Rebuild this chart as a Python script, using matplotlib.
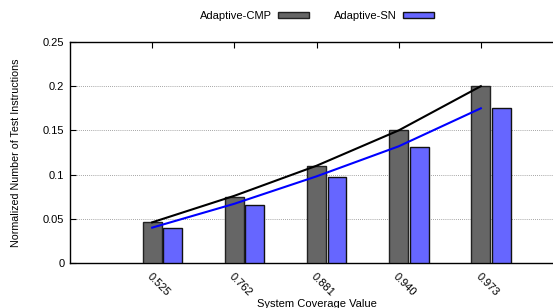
import numpy as np
import matplotlib
matplotlib.use("Agg")
import matplotlib.pyplot as plt
import matplotlib.transforms as mtransforms

plt.rcParams['font.family'] = ['Liberation Sans', 'DejaVu Sans']

# данные
categories = ["0.525", "0.762", "0.881", "0.940", "0.973"]
cmp_values = [0.046, 0.075, 0.110, 0.150, 0.200]
sn_values = [0.040, 0.066, 0.097, 0.131, 0.175]
# линии тренда (по точкам на позициях категорий)
cmp_trend = [0.046, 0.076, 0.110, 0.150, 0.200]
sn_trend = [0.040, 0.067, 0.098, 0.132, 0.175]
y_ticks = [0, 0.05, 0.1, 0.15, 0.2, 0.25]
y_tick_labels = ["0", "0.05", "0.1", "0.15", "0.2", "0.25"]

fig = plt.figure(figsize=(5.53, 3.08), dpi=100)
ax = fig.add_axes([70 / 553, 1 - 263 / 308, 493 / 553, 221 / 308])

x = np.arange(1, len(categories) + 1)
bar_w = 0.23
ax.bar(x, cmp_values, width=bar_w, color="#666666", edgecolor="#222222",
       linewidth=1.0, label="Adaptive-CMP", zorder=3)
ax.bar(x + 0.25, sn_values, width=bar_w, color="#6666ff", edgecolor="#111111",
       linewidth=1.0, label="Adaptive-SN", zorder=3)
ax.plot(x, cmp_trend, color="black", linewidth=1.5, zorder=4)
ax.plot(x, sn_trend, color="#0000ff", linewidth=1.5, zorder=4)

ax.set_xlim(0, 6)
ax.set_ylim(0, 0.25)
ax.set_yticks(y_ticks)
ax.set_yticklabels(y_tick_labels, fontsize=8)
ax.set_xticks(x)
ax.set_xticklabels(categories, fontsize=8, rotation=-45, ha="left", va="top",
                   rotation_mode="anchor")
offset = mtransforms.ScaledTranslation(6 / 100, 1 / 100, fig.dpi_scale_trans)
for lbl in ax.get_xticklabels():
    lbl.set_transform(lbl.get_transform() + offset)

ax.tick_params(axis="both", direction="in", length=4, width=0.8, top=True, right=True)
ax.tick_params(axis="x", pad=6)
ax.tick_params(axis="y", pad=4)
ax.grid(axis="y", linestyle=(0, (1, 1.5)), color="#888888", linewidth=0.6, zorder=0)
for sp in ax.spines.values():
    sp.set_linewidth(1.0)

ax.set_xlabel("System Coverage Value", fontsize=8)
ax.xaxis.set_label_coords(0.5, -0.165)
ax.set_ylabel("Normalized Number of Test Instructions", fontsize=7.7)
ax.yaxis.set_label_coords(-0.1, 0.5)

fig.legend(loc="center", bbox_to_anchor=(317 / 553, 1 - 16 / 308), ncol=2,
           frameon=False, markerfirst=False, fontsize=8, handlelength=2.8,
           handleheight=0.55, handletextpad=0.6, columnspacing=2.2, borderpad=0)

plt.savefig("out.png", dpi=100)
